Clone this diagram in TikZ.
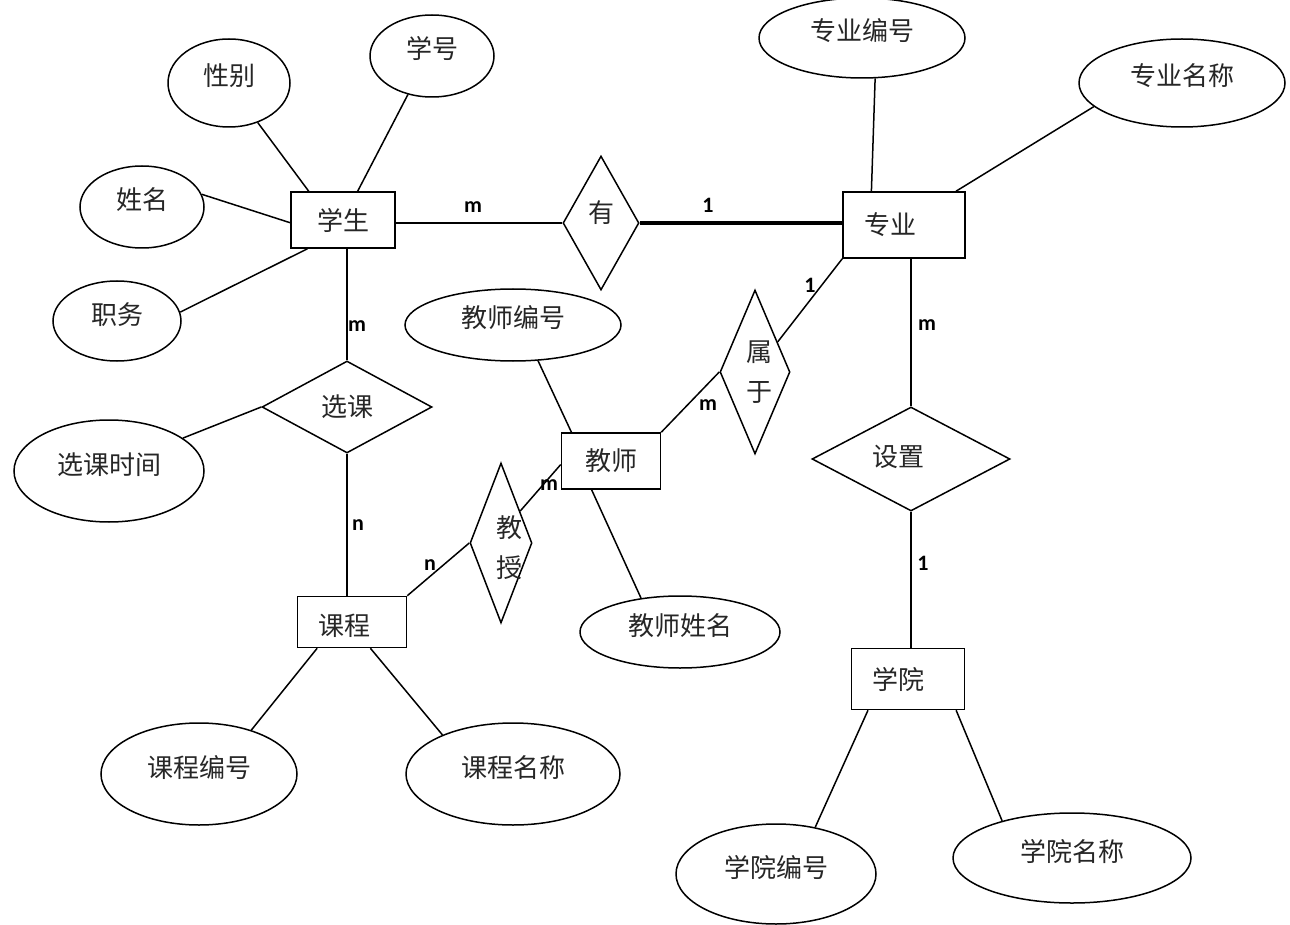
\documentclass[tikz,border=0pt]{standalone}
\usepackage{fontspec}
\newfontfamily\cjk{Noto Sans CJK SC}
\newfontfamily\labfont{Carlito}
\usetikzlibrary{shapes.geometric}
\tikzset{
  cjkfont/.style={font=\cjk\fontsize{13}{20}\selectfont, text=black!85},
  ent/.style={draw, rectangle, line width=0.75pt, inner sep=0pt, cjkfont},
  attr/.style={draw, ellipse, line width=0.75pt, inner sep=0pt, text height=9pt, text depth=6pt, cjkfont},
  rel/.style={draw, diamond, line width=0.75pt, inner sep=0pt, cjkfont},
  inlbl/.style={cjkfont, inner sep=0pt, align=center},
  card/.style={font=\labfont\bfseries\fontsize{11}{13}\selectfont, inner sep=0pt},
  conn/.style={line width=0.75pt},
  thickconn/.style={line width=1.6pt}
}
\begin{document}
\begin{tikzpicture}[x=0.5pt, y=-0.5pt]
\useasboundingbox (0,0) rectangle (1290,925);
% entities
\node[ent, minimum width=52pt, minimum height=28pt] (xs) at (343,220) {学生};
\node[ent, minimum width=61pt, minimum height=33pt,
      label={[name=zyt, inlbl, xshift=-7pt]center:专业}] (zy) at (904,225) {};
\node[ent, minimum width=49.5pt, minimum height=28pt] (js) at (611,461) {教师};
\node[ent, minimum width=54.5pt, minimum height=25.5pt,
      label={[name=kct, inlbl, xshift=-4pt, yshift=-2pt]center:课程}] (kc) at (352,622) {};
\node[ent, minimum width=56.5pt, minimum height=30.5pt,
      label={[name=xyt, inlbl, xshift=-5pt]center:学院}] (xy) at (908,679) {};
% attributes
\node[attr, minimum width=61pt, minimum height=44pt] (xb) at (229,83) {性别};
\node[attr, minimum width=62pt, minimum height=41pt] (xh) at (432,56) {学号};
\node[attr, minimum width=62pt, minimum height=41pt] (xm) at (142,207) {姓名};
\node[attr, minimum width=64pt, minimum height=40pt] (zw) at (117,321) {职务};
\node[attr, minimum width=95pt, minimum height=51pt] (xksj) at (109,471) {选课时间};
\node[attr, minimum width=108pt, minimum height=36pt] (jsbh) at (513,325) {教师编号};
\node[attr, minimum width=100pt, minimum height=36pt] (jsxm) at (680,632) {教师姓名};
\node[attr, minimum width=98pt, minimum height=51pt] (kcbh) at (199,774) {课程编号};
\node[attr, minimum width=107pt, minimum height=51pt] (kcmc) at (513,774) {课程名称};
\node[attr, minimum width=103pt, minimum height=40pt] (zybh) at (862,38) {专业编号};
\node[attr, minimum width=103pt, minimum height=44pt] (zymc) at (1182,83) {专业名称};
\node[attr, minimum width=100pt, minimum height=50pt] (xybh) at (776,874) {学院编号};
\node[attr, minimum width=119pt, minimum height=45pt] (xymc) at (1072,858) {学院名称};
% relationships
\node[rel, minimum width=38pt, minimum height=67pt,
      label={[name=yout, inlbl, yshift=5pt]center:有}] (you) at (601,223) {};
\node[rel, minimum width=85pt, minimum height=46pt] (xk) at (347,407) {选课};
\node[rel, minimum width=35pt, minimum height=82pt,
      label={[name=syt, inlbl, xshift=2pt]center:属\\于}] (sy) at (755,372) {};
\node[rel, minimum width=31pt, minimum height=80pt,
      label={[name=jsht, inlbl, xshift=4pt, yshift=-2.5pt]center:教\\授}] (jsh) at (501,543) {};
\node[rel, minimum width=99pt, minimum height=52pt,
      label={[name=szt, inlbl, xshift=-6.5pt, yshift=1pt]center:设置}] (sz) at (911,459) {};
% connectors
\draw[conn] (xs.140.5) -- (xb.-54);
\draw[conn] (xs.63.4) -- (xh.-122.7);
\draw[conn] (xs.183.3) -- (xm.12.7);
\draw[conn] (xs.219.5) -- (zw.8.7);
\draw[conn] (xk.north) -- (xk.north |- xs.south);
\draw[conn] (you.west) -- (you.west -| xs.east);
\draw[thickconn] (you.east) -- (you.east -| zy.west);
\draw[conn] (zy.134) -- (zybh.-72);
\draw[conn] (zy.33) -- (zymc.195.5);
\draw[conn] (zy.south west) -- (sy.53);
\draw[conn] (sz.north) -- (sz.north |- zy.south);
\draw[conn] (sy.west) -- (js.north east);
\draw[conn] (js.144) -- (jsbh.-55);
\draw[conn] (js.236) -- (jsxm.139.5);
\draw[conn] (js.184.7) -- (jsh.59);
\draw[conn] (jsh.west) -- (kc.north east);
\draw[conn] (xk.south) -- (xk.south |- kc.north);
\draw[conn] (xk.west) -- (xksj.24);
\draw[conn] (kc.217.4) -- (kcbh.40.9);
\draw[conn] (kc.-55.3) -- (kcmc.151);
\draw[conn] (sz.south) -- (sz.south |- xy.north);
\draw[conn] (xy.218.3) -- (xybh.50.6);
\draw[conn] (xy.-33.1) -- (xymc.152.5);
% cardinalities
\node[card] (c1) at (473,207) {m};
\node[card] (c2) at (708,205) {1};
\node[card] (c3) at (357,326) {m};
\node[card] (c4) at (810,285) {1};
\node[card] (c5) at (927,325) {m};
\node[card] (c6) at (708,405) {m};
\node[card] (c7) at (358,525) {n};
\node[card] (c8) at (549,485) {m};
\node[card] (c9) at (430,565) {n};
\node[card] (c10) at (923,563) {1};
\end{tikzpicture}
\end{document}
